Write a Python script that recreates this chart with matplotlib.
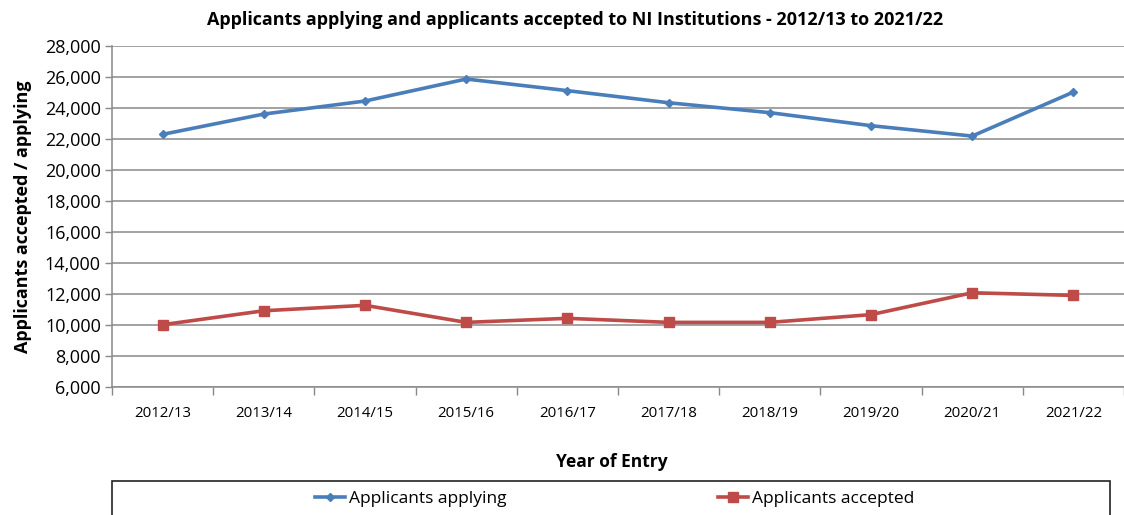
import numpy as np
import matplotlib
matplotlib.use('Agg')
import matplotlib.pyplot as plt
from matplotlib.patches import Rectangle
from matplotlib.ticker import FuncFormatter, MultipleLocator

plt.rcParams['font.family'] = ['Open Sans', 'DejaVu Sans']

years = ['2012/13', '2013/14', '2014/15', '2015/16', '2016/17',
         '2017/18', '2018/19', '2019/20', '2020/21', '2021/22']
applying = [22280, 23590, 24430, 25850, 25100, 24320, 23680, 22840, 22170, 25010]
accepted = [10000, 10900, 11250, 10150, 10410, 10150, 10150, 10650, 12060, 11890]

blue = '#4A7EBB'
red = '#BE4B48'
grid_col = '#898989'

fig = plt.figure(figsize=(11.24, 5.15), dpi=100)
ax = fig.add_axes([112 / 1124, 1 - 386.7 / 515, 1 - 112 / 1124, (386.7 - 45.7) / 515])

x = np.arange(len(years))
ax.plot(x, applying, color=blue, lw=2.6, marker='D', ms=4, label='Applicants applying')
ax.plot(x, accepted, color=red, lw=2.6, marker='s', ms=6.5, label='Applicants accepted')

ax.set_xlim(-0.5, len(years) - 0.5)
ax.set_ylim(6000, 28000)
ax.yaxis.set_major_locator(MultipleLocator(2000))
ax.yaxis.set_major_formatter(FuncFormatter(lambda v, p: f'{int(v):,}'))
ax.grid(axis='y', color=grid_col, lw=1.1)
ax.set_axisbelow(True)

ax.set_xticks(x)
ax.set_xticklabels(years, fontsize=10.8)
ax.set_xticks(np.arange(-0.5, len(years)), minor=True)
ax.tick_params(axis='x', which='major', length=0, pad=14)
ax.tick_params(axis='x', which='minor', length=6, color=grid_col, width=1)
ax.tick_params(axis='y', length=5, color=grid_col, width=1, labelsize=13, pad=3)

for s in ['top', 'right']:
    ax.spines[s].set_visible(False)
for s in ['left', 'bottom']:
    ax.spines[s].set_color(grid_col)
    ax.spines[s].set_linewidth(1.1)

ax.set_ylabel('Applicants accepted / applying', fontsize=13, fontweight='bold', labelpad=9)
fig.text(575 / 1124, 1 - 20 / 515, 'Applicants applying and applicants accepted to NI Institutions - 2012/13 to 2021/22',
         ha='center', va='center', fontsize=13, fontweight='bold')
fig.text(612 / 1124, 1 - 462 / 515, 'Year of Entry', ha='center', va='center',
         fontsize=12.5, fontweight='bold')

# legend box running off the bottom of the picture
fig.patches.append(Rectangle((112 / 1124, -0.1), (1110 - 112) / 1124, 0.1 + 1 - 481 / 515,
                             transform=fig.transFigure, fill=False, edgecolor='#222222', lw=1.2))
fig.legend(loc='center', bbox_to_anchor=(615 / 1124, 1 - 499 / 515), ncol=2, frameon=False,
           fontsize=12.5, columnspacing=12.2, handlelength=1.7, handletextpad=0.25)

fig.savefig('out.png', dpi=100)
